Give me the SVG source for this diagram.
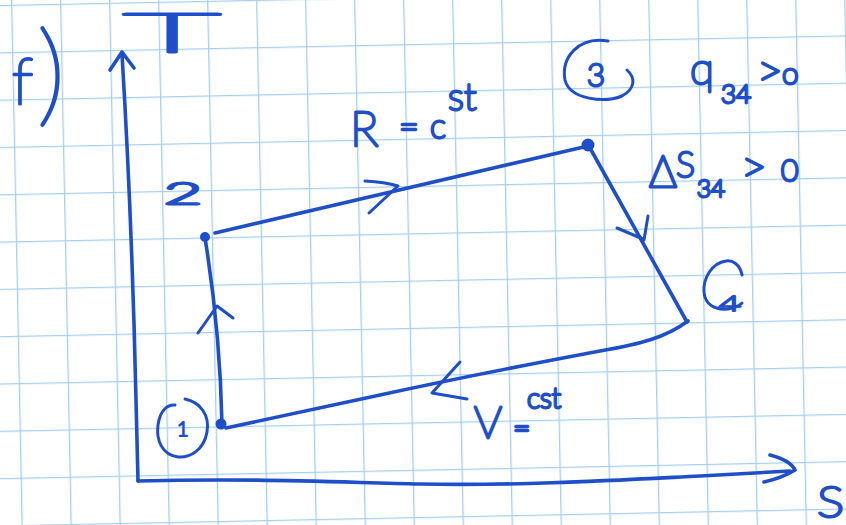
<svg xmlns="http://www.w3.org/2000/svg" width="846" height="525" viewBox="0 0 846 525">
<defs>
<style>
.pen{fill:none;stroke:#1f4fc8;stroke-width:3.6;stroke-linecap:round;stroke-linejoin:round}
.thin{stroke-width:3}
.ink{fill:#1f4fc8;stroke:#1f4fc8;stroke-width:3;stroke-linejoin:round;stroke-linecap:round;font-family:Lato,"Liberation Sans",Arial,sans-serif;font-weight:100}
.sm{stroke-width:2.2}
.dot{fill:#1f4fc8;stroke:#1f4fc8;stroke-width:2}
</style>
<pattern id="grid" patternUnits="userSpaceOnUse" x="11" y="52.3" width="49" height="47.3" patternTransform="rotate(-1.15)">
<path d="M0 0V47.3M0 0H49" fill="none" stroke="#a6cfee" stroke-width="2.6"/>
</pattern>
</defs>
<rect width="846" height="525" fill="#ffffff"/>
<rect x="-20" y="-20" width="900" height="580" fill="url(#grid)"/>

<g id="title">
<text class="ink" x="12" y="104" font-size="64">f<tspan font-size="112" dx="4" dy="8">)</tspan></text>
</g>

<g id="axes">
<path class="pen" d="M138 481 L136 400 Q132 220 122 54"/>
<path class="pen" d="M110 70 L122 52 L134 68"/>
<path class="pen" d="M138 481 C250 478 330 482 420 484 C520 486 620 480 700 476 L790 471"/>
<path class="pen" d="M770 455 Q790 460 795 470 Q782 478 764 482"/>
<text class="ink" x="124" y="52" font-size="54" textLength="96" lengthAdjust="spacingAndGlyphs">T</text>
<text class="ink" x="817" y="517" font-size="42" textLength="27" lengthAdjust="spacingAndGlyphs">S</text>
</g>

<g id="connectors">
<path id="e12" class="pen" d="M222 424 Q220 330 205 238"/>
<path class="pen thin" d="M198 333 L217 306 L233 318"/>
<path id="e23" class="pen" d="M215 233 L588 146"/>
<path class="pen thin" d="M365 181 Q385 182 398 186 L369 213"/>
<path id="e34" class="pen" d="M590 148 L687 322"/>
<path class="pen thin" d="M617 228 L643 239 M648 216 L644 240"/>
<path id="e41" class="pen" d="M688 321 C665 338 640 344 600 351 C520 366 440 382 380 395 L226 428"/>
<path class="pen thin" d="M460 362 L432 393 L467 399"/>
</g>

<g id="node1">
<circle class="dot" cx="221" cy="424" r="4.5"/>
<path class="pen thin" d="M185 399 C200 402 210 415 207 432 C204 450 190 458 178 457 C162 455 156 440 158 425 C160 410 168 404 175 405"/>
<text class="ink sm" x="177" y="436" font-size="20">1</text>
</g>

<g id="node2">
<circle class="dot" cx="205" cy="237" r="4"/>
<text class="ink" x="164" y="204" font-size="30" textLength="38" lengthAdjust="spacingAndGlyphs">2</text>
</g>

<g id="node3">
<circle class="dot" cx="588" cy="145" r="5.5"/>
<path class="pen thin" d="M608 41 C578 36 561 58 565 80 C570 100 605 103 622 96 C635 89 636 78 627 70"/>
<text class="ink" x="587" y="86" font-size="31">3</text>
</g>

<g id="node4">
<path class="pen thin" d="M742 275 C740 264 732 260 726 261 C712 263 703 278 704 292 C705 305 715 310 728 309 C735 308 740 305 742 303"/>
<text class="ink sm" x="719" y="311" font-size="22" textLength="22" lengthAdjust="spacingAndGlyphs">4</text>
</g>

<g id="labels">
<text class="ink"><tspan x="350" y="146" font-size="48">R</tspan><tspan x="399" y="139" font-size="34">=</tspan><tspan x="430" y="138" font-size="34">c</tspan><tspan x="448" y="110" font-size="38">st</tspan></text>
<text class="ink"><tspan x="690" y="84" font-size="44">q</tspan><tspan x="721" y="103" font-size="26">34</tspan><tspan x="757" y="86" font-size="44">&gt;</tspan><tspan x="782" y="84" font-size="30">o</tspan></text>
<text class="ink"><tspan x="649" y="187" font-size="44">Δ</tspan><tspan x="676" y="177" font-size="36">S</tspan><tspan x="697" y="197" font-size="24">34</tspan><tspan x="741" y="182" font-size="44">&gt;</tspan><tspan x="781" y="181" font-size="30">0</tspan></text>
<text class="ink"><tspan x="474" y="438" font-size="44">V</tspan><tspan x="513" y="438" font-size="30">=</tspan><tspan x="527" y="408" font-size="28">cst</tspan></text>
</g>
</svg>
